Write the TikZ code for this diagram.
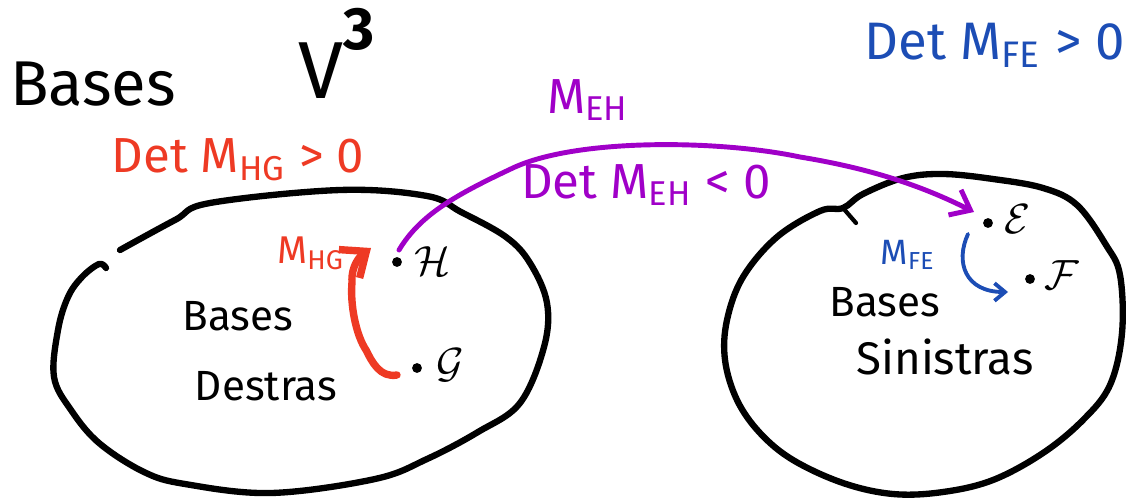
\documentclass[tikz,border=0pt]{standalone}
\usepackage{fontspec}
\setmainfont{Fira Sans}
\usetikzlibrary{arrows.meta,calc}
\definecolor{hred}{HTML}{EE3A24}
\definecolor{hpurple}{HTML}{A000C8}
\definecolor{hblue}{HTML}{1C4DB5}
\begin{document}
\begin{tikzpicture}[x=0.01cm,y=-0.01cm,line cap=round,line join=round,
  blob/.style={line width=1.8pt,black},
  dot/.style={circle,fill=black,inner sep=0pt,minimum size=2.8pt},
  ptlabel/.style={font=\fontsize{13}{13}\selectfont,inner sep=0pt},
  intext/.style={font=\fontsize{12}{12}\selectfont,inner sep=0pt},
  redarr/.style={hred,line width=2.1pt,-{Straight Barb[length=6pt,width=10pt]}},
  purarr/.style={hpurple,line width=1.4pt,-{Straight Barb[length=5pt,width=8pt]}},
  bluarr/.style={hblue,line width=1.1pt,-{Straight Barb[length=3pt,width=5pt]}}]
\useasboundingbox (0,0) rectangle (1146,500);

% left blob
\draw[blob] plot[smooth,tension=0.6] coordinates {(120,250) (175,220) (210,203) (340,190) (427,196) (461,212) (506,237) (530,263) (547,303) (544,347) (520,403) (478,432) (427,459) (375,479) (271,493) (185,484) (144,472) (99,443) (71,410) (54,377) (58,330) (68,297) (82,277) (99,264) (106,268)};
% right blob
\draw[blob] plot[smooth cycle,tension=0.6] coordinates {(843,208) (820,211) (777,237) (743,277) (727,320) (725,360) (737,400) (760,433) (793,460) (843,483) (893,494) (943,492) (993,480) (1043,453) (1083,420) (1110,385) (1122,333) (1120,275) (1106,245) (1077,205) (1043,188) (993,179) (943,174) (903,178) (863,194)};
\draw[line width=1.2pt] (843,208) -- (856,223);

% titles
\node[font=\fontsize{18}{18}\selectfont,inner sep=0pt] (title) at (93,84) {Bases};
\node[font=\fontsize{23}{23}\selectfont,inner sep=0pt,anchor=base west] (V) at (298,98) {V\raisebox{0.6em}{\fontsize{17}{17}\selectfont\bfseries 3}};

% dots
\node[dot] (H) at (397,262) {};
\node[dot] (G) at (417,368) {};
\node[dot] (E) at (988,223) {};
\node[dot] (F) at (1030,279) {};
\node[ptlabel] (Hl) at (433,261) {$\mathcal{H}$};
\node[ptlabel] (Gl) at (450,365) {$\mathcal{G}$};
\node[ptlabel] (El) at (1018,219) {$\mathcal{E}$};
\node[ptlabel] (Fl) at (1062,275) {$\mathcal{F}$};

% inner texts
\node[intext] (b1) at (238,316) {Bases};
\node[intext] (d1) at (266,386) {Destras};
\node[intext] (b2) at (885,302) {Bases};
\node[intext,font=\fontsize{13}{13}\selectfont] (s2) at (945,357) {Sinistras};

% red
\node[hred,font=\fontsize{14}{14}\selectfont,inner sep=0pt] (detHG) at (238,160) {Det M\textsubscript{HG} > 0};
\node[hred,font=\fontsize{11}{11}\selectfont,inner sep=0pt] (mHG) at (311,253) {M\textsubscript{HG}};
\draw[redarr] ($(G)+(-20,7)$) .. controls (380,378) and (372,362) .. (366,350)
  .. controls (356,335) and (350,305) .. (352,282)
  .. controls (351,266) and (360,256) .. ($(H)+(-26,-14)$);

% purple
\node[hpurple,font=\fontsize{14}{14}\selectfont,inner sep=0pt] (mEH) at (588,100) {M\textsubscript{EH}};
\node[hpurple,font=\fontsize{14}{14}\selectfont,inner sep=0pt] (detEH) at (646,185) {Det M\textsubscript{EH} < 0};
\draw[purarr] ($(H)+(2,-12)$) .. controls (420,215) and (455,195) .. (515,167)
  .. controls (580,138) and (720,140) .. (800,157)
  .. controls (880,170) and (930,190) .. ($(E)+(-14,-11)$);

% blue
\node[hblue,font=\fontsize{15}{15}\selectfont,inner sep=0pt] (detFE) at (995,45) {Det M\textsubscript{FE} > 0};
\node[hblue,font=\fontsize{10}{10}\selectfont,inner sep=0pt] (mFE) at (908,255) {M\textsubscript{FE}};
\draw[bluarr] ($(E)+(-20,11)$) .. controls (955,262) and (965,292) .. ($(F)+(-22,13)$);
\end{tikzpicture}
\end{document}
